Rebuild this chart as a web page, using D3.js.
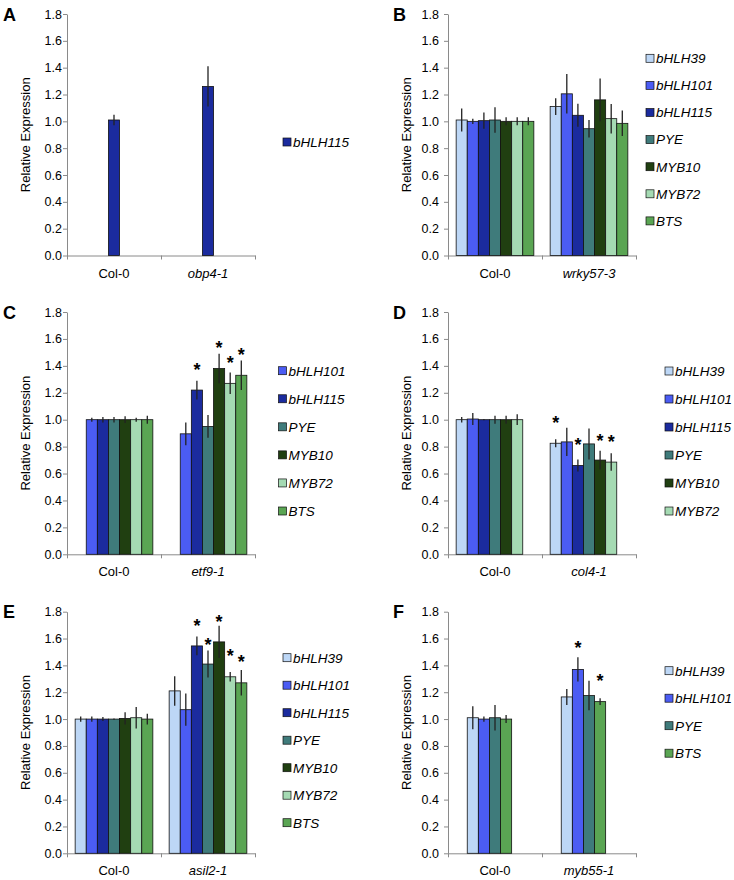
<!DOCTYPE html>
<html><head><meta charset="utf-8">
<script src="https://cdn.jsdelivr.net/npm/d3@7"></script>
<style>
body{margin:0;background:#fff}
svg{display:block}
text{font-family:"Liberation Sans",Arial,Helvetica,sans-serif}
</style>
</head><body>
<svg id="chart" width="734" height="880"></svg>
<script>
// ---------- DATA ----------
const geneColors = {
  bHLH39: "#bdd7f6", bHLH101: "#4b5cf3", bHLH115: "#1b2b9e", PYE: "#3f7b7b",
  MYB10: "#203f11", MYB72: "#a5dab3", BTS: "#5aa553"
};
const yTickValues = [0, 0.2, 0.4, 0.6, 0.8, 1.0, 1.2, 1.4, 1.6, 1.8];

// Panel A
const catsA = ["Col-0", "obp4-1"];
const seriesA = ["bHLH115"];
const valuesA = [[1.01], [1.26]];
const errorsA = [[0.04], [0.15]];
const starsA = [[null], [null]];

// Panel B
const catsB = ["Col-0", "wrky57-3"];
const seriesB = ["bHLH39", "bHLH101", "bHLH115", "PYE", "MYB10", "MYB72", "BTS"];
const valuesB = [[1.01, 1.0, 1.005, 1.01, 1.0, 1.0, 1.0], [1.11, 1.205, 1.045, 0.945, 1.16, 1.02, 0.985]];
const errorsB = [[0.085, 0.02, 0.06, 0.095, 0.03, 0.03, 0.03], [0.062, 0.147, 0.086, 0.065, 0.16, 0.11, 0.095]];
const starsB = [[null, null, null, null, null, null, null], [null, null, null, null, null, null, null]];

// Panel C
const catsC = ["Col-0", "etf9-1"];
const seriesC = ["bHLH101", "bHLH115", "PYE", "MYB10", "MYB72", "BTS"];
const valuesC = [[1.0, 1.0, 1.0, 1.0, 1.0, 1.0], [0.895, 1.22, 0.95, 1.38, 1.27, 1.33]];
const errorsC = [[0.015, 0.02, 0.02, 0.025, 0.015, 0.03], [0.085, 0.07, 0.085, 0.11, 0.08, 0.11]];
const starsC = [[null, null, null, null, null, null], [null, 1.406, null, 1.568, 1.456, 1.513]];

// Panel D
const catsD = ["Col-0", "col4-1"];
const seriesD = ["bHLH39", "bHLH101", "bHLH115", "PYE", "MYB10", "MYB72"];
const valuesD = [[1.0, 1.005, 1.0, 1.0, 1.0, 1.0], [0.825, 0.835, 0.66, 0.82, 0.70, 0.685]];
const errorsD = [[0.02, 0.045, 0.005, 0.03, 0.03, 0.04], [0.03, 0.105, 0.045, 0.115, 0.07, 0.065]];
const starsD = [[null, null, null, null, null, null], [1.01, null, 0.849, null, 0.874, 0.869]];

// Panel E
const catsE = ["Col-0", "asil2-1"];
const seriesE = ["bHLH39", "bHLH101", "bHLH115", "PYE", "MYB10", "MYB72", "BTS"];
const valuesE = [[1.0, 1.0, 1.0, 1.0, 1.005, 1.01, 1.0], [1.21, 1.07, 1.545, 1.41, 1.575, 1.315, 1.27]];
const errorsE = [[0.02, 0.02, 0.015, 0.005, 0.045, 0.08, 0.04], [0.11, 0.12, 0.07, 0.10, 0.12, 0.035, 0.095]];
const starsE = [[null, null, null, null, null, null, null], [null, null, 1.726, 1.589, 1.758, 1.502, 1.458]];

// Panel F
const catsF = ["Col-0", "myb55-1"];
const seriesF = ["bHLH39", "bHLH101", "PYE", "BTS"];
const valuesF = [[1.01, 1.0, 1.01, 1.0], [1.165, 1.37, 1.175, 1.13]];
const errorsF = [[0.085, 0.02, 0.095, 0.03], [0.06, 0.09, 0.11, 0.025]];
const starsF = [[null, null, null, null], [null, 1.564, null, 1.316]];

// ---------- LAYOUT ----------
const panels = [
  {letter: "A", cats: catsA, series: seriesA, values: valuesA, errors: errorsA, stars: starsA,
   x0: 67, x1: 255, yTop: 14, yBot: 255.5, slots: 1, slotStart: 0,
   legX: 283, legY: 142, legStep: 27, tickGap: 5, titleX: 25, letterX: 3},
  {letter: "B", cats: catsB, series: seriesB, values: valuesB, errors: errorsB, stars: starsB,
   x0: 448, x1: 636, yTop: 14, yBot: 255.5, slots: 7, slotStart: 0,
   legX: 646, legY: 58.3, legStep: 27.1, tickGap: 9, titleX: 406, letterX: 393},
  {letter: "C", cats: catsC, series: seriesC, values: valuesC, errors: errorsC, stars: starsC,
   x0: 67, x1: 255, yTop: 312, yBot: 554.3, slots: 7, slotStart: 1,
   legX: 278.5, legY: 370.7, legStep: 28.06, tickGap: 5, titleX: 25, letterX: 3},
  {letter: "D", cats: catsD, series: seriesD, values: valuesD, errors: errorsD, stars: starsD,
   x0: 448, x1: 636, yTop: 312, yBot: 554.3, slots: 7, slotStart: 0,
   legX: 665, legY: 371, legStep: 28, tickGap: 9, titleX: 406, letterX: 393},
  {letter: "E", cats: catsE, series: seriesE, values: valuesE, errors: errorsE, stars: starsE,
   x0: 67, x1: 255, yTop: 611.7, yBot: 853.3, slots: 7, slotStart: 0,
   legX: 283, legY: 657.7, legStep: 27.5, tickGap: 5, titleX: 25, letterX: 3},
  {letter: "F", cats: catsF, series: seriesF, values: valuesF, errors: errorsF, stars: starsF,
   x0: 448, x1: 636, yTop: 611.7, yBot: 853.3, slots: 5, slotStart: 0,
   legX: 665, legY: 670.7, legStep: 27.5, tickGap: 9, titleX: 406, letterX: 393}
];
const slotW = 11.1;
const axisColor = "#8a8a8a";

const svg = d3.select("#chart");

panels.forEach(p => {
  const g = svg.append("g");
  const y = d3.scaleLinear().domain([0, 1.8]).range([p.yBot, p.yTop]);
  const x = d3.scaleBand().domain(p.cats).range([p.x0, p.x1]).padding(0);
  const x1 = d3.scaleBand().domain(d3.range(p.slots))
    .range([-p.slots * slotW / 2, p.slots * slotW / 2]).padding(0);

  // y axis
  const yAxis = g.append("g").attr("transform", `translate(${p.x0},0)`)
    .call(d3.axisLeft(y).tickValues(yTickValues).tickFormat(d3.format(".1f")).tickSize(4).tickSizeOuter(0));
  yAxis.select(".domain").attr("stroke", axisColor);
  yAxis.selectAll(".tick line").attr("stroke", axisColor);
  yAxis.selectAll(".tick text").attr("font-size", 12.5).attr("fill", "#000")
    .attr("x", -p.tickGap).attr("font-family", "Liberation Sans, Arial, sans-serif");

  // x axis (boundary ticks)
  const xb = d3.scaleLinear().domain([0, p.cats.length]).range([p.x0, p.x1]);
  const xAxis = g.append("g").attr("transform", `translate(0,${p.yBot})`)
    .call(d3.axisBottom(xb).tickValues(d3.range(p.cats.length + 1)).tickFormat("").tickSize(4).tickSizeOuter(0));
  xAxis.select(".domain").attr("stroke", axisColor);
  xAxis.selectAll(".tick line").attr("stroke", axisColor);

  // category labels
  g.selectAll("text.cat").data(p.cats).join("text")
    .attr("class", "cat")
    .attr("x", d => x(d) + x.bandwidth() / 2)
    .attr("y", p.yBot + 22)
    .attr("text-anchor", "middle")
    .attr("font-size", 13)
    .attr("font-style", (d, i) => i === 0 ? "normal" : "italic")
    .text(d => d);

  // y title
  g.append("text")
    .attr("transform", `translate(${p.titleX},${(p.yTop + p.yBot) / 2}) rotate(-90)`)
    .attr("text-anchor", "middle")
    .attr("dy", "0.35em")
    .attr("font-size", 13)
    .text("Relative Expression");

  // panel letter
  g.append("text")
    .attr("x", p.letterX).attr("y", p.yTop + 6.5)
    .attr("font-size", 18).attr("font-weight", "bold")
    .text(p.letter);

  // bars
  const items = [];
  p.cats.forEach((c, ci) => {
    p.series.forEach((s, si) => {
      items.push({cat: c, ci, s, slot: si + p.slotStart, v: p.values[ci][si], e: p.errors[ci][si], star: p.stars[ci][si]});
    });
  });
  const cx = d => x(d.cat) + x.bandwidth() / 2 + x1(d.slot);
  g.selectAll("rect.bar").data(items).join("rect")
    .attr("class", "bar")
    .attr("x", d => cx(d))
    .attr("width", x1.bandwidth())
    .attr("y", d => y(d.v))
    .attr("height", d => y(0) - y(d.v))
    .attr("fill", d => geneColors[d.s])
    .attr("stroke", "#111")
    .attr("stroke-width", 0.8);

  // error bars
  g.selectAll("line.err").data(items).join("line")
    .attr("class", "err")
    .attr("x1", d => cx(d) + x1.bandwidth() / 2)
    .attr("x2", d => cx(d) + x1.bandwidth() / 2)
    .attr("y1", d => y(d.v + d.e))
    .attr("y2", d => y(d.v - d.e))
    .attr("stroke", "#222")
    .attr("stroke-width", 1.3);

  // significance stars
  g.selectAll("text.star").data(items.filter(d => d.star != null)).join("text")
    .attr("class", "star")
    .attr("x", d => cx(d) + x1.bandwidth() / 2)
    .attr("y", d => y(d.star) + 10.5)
    .attr("text-anchor", "middle")
    .attr("font-size", 18)
    .attr("font-weight", "bold")
    .text("*");

  // legend
  const leg = g.selectAll("g.leg").data(p.series).join("g")
    .attr("class", "leg")
    .attr("transform", (d, i) => `translate(${p.legX},${p.legY + i * p.legStep})`);
  leg.append("rect").attr("x", 0).attr("y", -4).attr("width", 8).attr("height", 8)
    .attr("fill", d => geneColors[d]).attr("stroke", "#111").attr("stroke-width", 0.7);
  leg.append("text").attr("x", 10).attr("y", 4.8)
    .attr("font-size", 13.5).attr("font-style", "italic")
    .text(d => d);
});
</script>
</body></html>
